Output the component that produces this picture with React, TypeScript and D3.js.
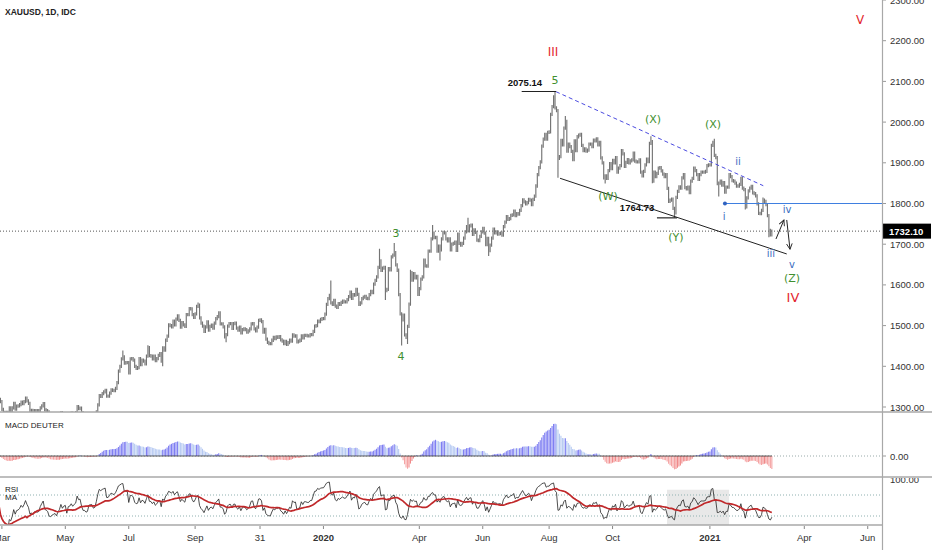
import React from 'react';
import * as d3 from 'd3';

// ---- Daily closes (XAUUSD, IDC), one array per month ----
const feb2019 = [1328, 1328, 1319, 1313];
const mar2019 = [1294, 1287, 1286, 1287, 1286, 1298, 1292, 1298, 1309, 1295, 1302, 1303, 1306, 1312, 1308, 1313, 1322, 1315, 1309, 1290, 1292];
const apr2019 = [1286, 1291, 1291, 1290, 1291, 1298, 1303, 1308, 1293, 1291, 1288, 1275, 1273, 1275, 1276, 1277, 1272, 1276, 1279, 1286, 1280, 1283];
const may2019 = [1284, 1270, 1280, 1281, 1285, 1281, 1284, 1286, 1301, 1296, 1297, 1286, 1277, 1277, 1273, 1274, 1283, 1284, 1284, 1279, 1280, 1288, 1305];
const jun2019 = [1328, 1326, 1333, 1337, 1341, 1327, 1327, 1334, 1342, 1341, 1340, 1346, 1360, 1388, 1400, 1418, 1423, 1408, 1409, 1409];
const jul2019 = [1384, 1418, 1419, 1415, 1400, 1395, 1397, 1419, 1404, 1415, 1413, 1406, 1425, 1446, 1426, 1425, 1418, 1425, 1414, 1419, 1427, 1431, 1413];
const aug2019 = [1445, 1440, 1464, 1474, 1502, 1500, 1497, 1511, 1502, 1516, 1524, 1513, 1496, 1507, 1502, 1498, 1527, 1527, 1542, 1541, 1527, 1520];
const sep2019 = [1529, 1547, 1550, 1519, 1506, 1499, 1486, 1497, 1509, 1489, 1498, 1501, 1494, 1506, 1517, 1522, 1531, 1504, 1504, 1497, 1472];
const oct2019 = [1478, 1499, 1505, 1505, 1493, 1505, 1506, 1494, 1489, 1496, 1482, 1490, 1492, 1490, 1484, 1487, 1492, 1504, 1505, 1492, 1487, 1496, 1513];
const nov2019 = [1514, 1510, 1484, 1491, 1467, 1459, 1456, 1456, 1464, 1471, 1468, 1472, 1471, 1473, 1465, 1462, 1456, 1461, 1454, 1458, 1464];
const dec2019 = [1462, 1477, 1474, 1475, 1460, 1462, 1464, 1475, 1470, 1476, 1476, 1475, 1475, 1478, 1478, 1486, 1499, 1500, 1511, 1510, 1515, 1517];
const jan2020 = [1517, 1528, 1552, 1566, 1574, 1556, 1552, 1562, 1548, 1545, 1554, 1552, 1557, 1560, 1558, 1558, 1564, 1571, 1582, 1567, 1576, 1575, 1589];
const feb2020 = [1577, 1552, 1556, 1566, 1570, 1572, 1567, 1566, 1576, 1584, 1581, 1602, 1611, 1620, 1643, 1659, 1636, 1641, 1643, 1586];
const mar2020 = [1589, 1640, 1637, 1669, 1673, 1679, 1649, 1636, 1576, 1529, 1514, 1526, 1477, 1471, 1498, 1553, 1630, 1612, 1628, 1617, 1621, 1577];
const apr2020 = [1591, 1614, 1620, 1661, 1647, 1646, 1683, 1683, 1713, 1727, 1716, 1717, 1683, 1695, 1686, 1713, 1729, 1728, 1713, 1708, 1713, 1686];
const may2020 = [1700, 1702, 1705, 1685, 1725, 1702, 1698, 1702, 1715, 1730, 1743, 1733, 1745, 1747, 1724, 1735, 1729, 1710, 1709, 1719, 1730];
const jun2020 = [1739, 1727, 1699, 1714, 1684, 1698, 1715, 1737, 1728, 1730, 1725, 1726, 1727, 1722, 1743, 1754, 1768, 1761, 1763, 1771, 1772, 1781];
const jul2020 = [1770, 1775, 1774, 1783, 1795, 1809, 1804, 1799, 1802, 1810, 1808, 1797, 1810, 1818, 1843, 1871, 1888, 1902, 1941, 1958, 1970, 1958, 1975];
const aug2020 = [1976, 2019, 2038, 2062, 2035, 2028, 1911, 1915, 1955, 1944, 1985, 2002, 1929, 1946, 1940, 1928, 1908, 1954, 1930, 1964, 1968];
const sep2020 = [1970, 1943, 1930, 1934, 1929, 1931, 1946, 1946, 1940, 1956, 1954, 1959, 1944, 1950, 1912, 1900, 1863, 1868, 1862, 1881, 1898, 1886];
const oct2020 = [1906, 1900, 1913, 1877, 1887, 1893, 1930, 1922, 1891, 1901, 1908, 1900, 1905, 1907, 1924, 1904, 1902, 1902, 1907, 1877, 1868, 1879];
const nov2020 = [1895, 1909, 1903, 1948, 1952, 1855, 1877, 1866, 1874, 1887, 1888, 1880, 1872, 1866, 1871, 1837, 1805, 1808, 1811, 1788, 1777];
const dec2020 = [1815, 1830, 1841, 1838, 1863, 1871, 1839, 1836, 1840, 1827, 1855, 1862, 1887, 1881, 1871, 1859, 1871, 1877, 1877, 1877, 1879, 1893, 1895];
const jan2021 = [1895, 1943, 1950, 1918, 1913, 1849, 1850, 1855, 1845, 1851, 1828, 1840, 1840, 1871, 1866, 1856, 1855, 1850, 1843, 1843, 1847];
const feb2021 = [1862, 1838, 1834, 1792, 1814, 1831, 1838, 1842, 1826, 1824, 1819, 1799, 1776, 1775, 1783, 1808, 1805, 1797, 1770, 1734];
const mar2021 = [1723, 1732.1];

const months = [feb2019, mar2019, apr2019, may2019, jun2019, jul2019, aug2019, sep2019, oct2019, nov2019, dec2019,
  jan2020, feb2020, mar2020, apr2020, may2020, jun2020, jul2020, aug2020, sep2020, oct2020, nov2020, dec2020,
  jan2021, feb2021, mar2021];
const FIRST_DAY = '2019-02-25';

// notable intraday extremes
const extremes: [string, 'h' | 'l', number][] = [
  ['2019-06-25', 'h', 1439], ['2019-07-18', 'h', 1452], ['2019-08-01', 'l', 1400], ['2019-09-04', 'h', 1557],
  ['2019-10-01', 'l', 1459], ['2020-01-08', 'h', 1611], ['2020-02-24', 'h', 1689], ['2020-02-28', 'l', 1563],
  ['2020-03-09', 'h', 1703], ['2020-03-16', 'l', 1451], ['2020-03-20', 'l', 1455], ['2020-03-24', 'h', 1637],
  ['2020-04-14', 'h', 1747], ['2020-04-21', 'l', 1660], ['2020-05-18', 'h', 1765], ['2020-06-05', 'l', 1671],
  ['2020-08-07', 'h', 2075.14], ['2020-08-11', 'l', 1863], ['2020-08-18', 'h', 2015], ['2020-09-24', 'l', 1849],
  ['2020-11-06', 'h', 1965], ['2020-11-09', 'l', 1850], ['2020-11-30', 'l', 1764.73], ['2021-01-06', 'h', 1959],
  ['2021-01-11', 'l', 1817], ['2021-02-04', 'l', 1785], ['2021-02-22', 'h', 1815], ['2021-02-26', 'l', 1717],
];

const priceTicks = [1300, 1400, 1500, 1600, 1700, 1800, 1900, 2000, 2100, 2200, 2300];
const timeTicks: [string, string, boolean][] = [
  ['2019-03', 'Mar', false], ['2019-05', 'May', false], ['2019-07', 'Jul', false], ['2019-09', 'Sep', false],
  ['2019-11', '31', false], ['2020-01', '2020', true], ['2020-04', 'Apr', false], ['2020-06', 'Jun', false],
  ['2020-08', 'Aug', false], ['2020-10', 'Oct', false], ['2021-01', '2021', true], ['2021-04', 'Apr', false],
  ['2021-06', 'Jun', false],
];

// wave labels: [text, bar index, price, colour key, size]
const waveLabels: [string, number, number, string, number][] = [
  ['III', 377.6, 2172, 'red', 12], ['V', 585.8, 2251, 'red', 12], ['IV', 540.3, 1570, 'red', 13],
  ['5', 379, 2103, 'green', 11], ['3', 271.2, 1727, 'green', 11], ['4', 274.6, 1425, 'green', 11],
  ['(X)', 445.4, 2007, 'green', 11], ['(X)', 486.1, 1993, 'green', 11], ['(W)', 414.9, 1818, 'green', 11],
  ['(Y)', 461.0, 1717, 'green', 11], ['(Z)', 539.7, 1615, 'green', 11],
  ['ii', 503.1, 1904, 'blue', 10], ['i', 493.6, 1767, 'blue', 10], ['iv', 536.3, 1786, 'blue', 10],
  ['iii', 525.4, 1678, 'blue', 10], ['v', 539.7, 1649, 'blue', 10],
];
const priceNotes: [string, number, number][] = [['2075.14', 358.6, 2098.5], ['1764.73', 434.6, 1789]];
const LAST_PRICE = 1732.1;

const COLORS: Record<string, string> = { red: '#e3262e', green: '#3f8f2f', blue: '#3a6cc0' };

function tradingDays(start: string, n: number): string[] {
  const out: string[] = [];
  const d = new Date(start + 'T00:00:00Z');
  while (out.length < n) {
    const wd = d.getUTCDay();
    if (wd !== 0 && wd !== 6) out.push(d.toISOString().slice(0, 10));
    d.setUTCDate(d.getUTCDate() + 1);
  }
  return out;
}

function ema(v: number[], n: number) {
  const a = 2 / (n + 1);
  const out: number[] = [];
  v.forEach((x, i) => out.push(i === 0 ? x : a * x + (1 - a) * out[i - 1]));
  return out;
}

function rsiCalc(v: number[], n: number) {
  const out: number[] = [NaN];
  let g = 0, l = 0;
  for (let i = 1; i < v.length; i++) {
    const ch = v[i] - v[i - 1];
    const up = Math.max(ch, 0), dn = Math.max(-ch, 0);
    const k = Math.min(i, n);
    g = (g * (k - 1) + up) / k;
    l = (l * (k - 1) + dn) / k;
    out.push(l === 0 ? 100 : 100 - 100 / (1 + g / l));
  }
  return out;
}

function sma(v: number[], n: number) {
  return v.map((_, i) => {
    const s = v.slice(Math.max(1, i - n + 1), i + 1).filter((x) => !isNaN(x));
    return s.length ? d3.mean(s)! : NaN;
  });
}

export default function App() {
  const W = 932, H = 550, AX = 882;
  const P_BOT = 412, M_BOT = 477, R_BOT = 525;
  const closes = months.flat();
  const N = closes.length;
  const days = tradingDays(FIRST_DAY, N + 90);
  const WICK = 4;
  const bars = closes.map((c, i) => {
    const o = i > 0 ? closes[i - 1] : c;
    return { o, c, h: Math.max(o, c) + WICK, l: Math.min(o, c) - WICK };
  });
  extremes.forEach(([d, t, p]) => {
    const i = days.indexOf(d);
    if (i >= 0 && i < N) {
      if (t === 'h') bars[i].h = Math.max(bars[i].h, p);
      else bars[i].l = Math.min(bars[i].l, p);
    }
  });

  const x = d3.scaleLinear().domain([2.712, 600.68]).range([0, AX]);
  const yP = d3.scaleLinear().domain([1300, 2300]).range([407, 0]);
  const yM = d3.scaleLinear().domain([-43.75, 91.7]).range([M_BOT, P_BOT]);
  const yR = d3.scaleLinear().domain([0, 100]).range([531.75, 479.25]);

  const e12 = ema(closes, 12), e26 = ema(closes, 26);
  const macd = closes.map((_, i) => e12[i] - e26[i]);
  const rsi = rsiCalc(closes, 9);
  const rsiMa = sma(rsi, 20);

  const barPath = bars.map((b, i) => {
    const xi = x(i);
    return `M${xi.toFixed(2)},${yP(b.h).toFixed(2)}V${yP(b.l).toFixed(2)}`;
  }).join('');

  const histColor = (i: number) => {
    const v = macd[i], pv = i > 0 ? macd[i - 1] : v;
    if (v >= 0) return v >= pv ? '#7f7ff2' : '#b5c9f2';
    return v <= pv ? '#f5a3a3' : '#f08a8a';
  };

  const idxOfMonth = (m: string) => days.findIndex((d) => d.startsWith(m));
  const rsiLine = d3.line<number>().x((_, i) => x(i)).y((v) => yR(v)).defined((v) => !isNaN(v));
  const font = "'Liberation Sans', Arial, sans-serif";

  const rectA = x(454.9), rectB = x(497);

  return (
    <svg width={W} height={H} style={{ position: 'absolute', left: 0, top: 0, background: '#fff' }} fontFamily={font}>
      <defs>
        <clipPath id="cp"><rect x={0} y={0} width={AX} height={P_BOT} /></clipPath>
        <clipPath id="cm"><rect x={0} y={P_BOT} width={AX} height={M_BOT - P_BOT} /></clipPath>
        <clipPath id="cr"><rect x={0} y={M_BOT} width={AX} height={R_BOT - M_BOT} /></clipPath>
        <clipPath id="cra"><rect x={AX} y={M_BOT + 1} width={W - AX} height={R_BOT - M_BOT} /></clipPath>
        <clipPath id="cpa"><rect x={AX} y={0} width={W - AX} height={P_BOT} /></clipPath>
        <marker id="ah" viewBox="0 0 10 10" refX={9} refY={5} markerWidth={7} markerHeight={7} orient="auto">
          <path d="M1,1 L9,5 L1,9" fill="none" stroke="#222" strokeWidth={1.3} />
        </marker>
      </defs>
      <rect x={0} y={0} width={W} height={H} fill="#fff" />

      {/* price panel */}
      <g clipPath="url(#cp)">
        <line x1={0} x2={AX} y1={yP(LAST_PRICE)} y2={yP(LAST_PRICE)} stroke="#555" strokeWidth={1} strokeDasharray="1,2" />
        <path d={barPath} stroke="#747474" strokeWidth={1.15} fill="none" />
        {/* trend lines */}
        <line x1={x(379.7)} y1={yP(2074.7)} x2={x(520.2)} y2={yP(1843.7)} stroke="#4b4be0" strokeWidth={1} strokeDasharray="4,3" />
        <line x1={x(382.4)} y1={yP(1862)} x2={x(536.1)} y2={yP(1676)} stroke="#222" strokeWidth={1} />
        <line x1={x(356.4)} y1={yP(2075.14)} x2={x(379.7)} y2={yP(2075.14)} stroke="#222" strokeWidth={1.2} />
        <line x1={x(448.1)} y1={yP(1764.73)} x2={x(461.7)} y2={yP(1764.73)} stroke="#222" strokeWidth={1.2} />
        <line x1={x(494.2)} y1={yP(1800)} x2={AX} y2={yP(1800)} stroke="#3f7fe0" strokeWidth={1.1} />
        <circle cx={x(494.2)} cy={yP(1800)} r={2} fill="#2f62c0" />
        <line x1={x(528.8)} y1={yP(1712.8)} x2={x(534.2)} y2={yP(1759.5)} stroke="#222" strokeWidth={1} markerEnd="url(#ah)" />
        <line x1={x(536.1)} y1={yP(1759.5)} x2={x(538.3)} y2={yP(1687.5)} stroke="#222" strokeWidth={1} markerEnd="url(#ah)" />
        {waveLabels.map(([t, i, p, c, s], k) => (
          <text key={k} x={x(i)} y={yP(p)} fill={COLORS[c]} fontSize={s} textAnchor="middle" dominantBaseline="central"
            fontFamily="'DejaVu Sans', sans-serif">{t}</text>
        ))}
        {priceNotes.map(([t, i, p], k) => (
          <text key={k} x={x(i)} y={yP(p)} fill="#111" fontSize={9.5} fontWeight="bold" textAnchor="middle" dominantBaseline="central">{t}</text>
        ))}
      </g>
      <text x={5} y={12} fontSize={8.5} fontWeight={600} fill="#222" dominantBaseline="central">XAUUSD, 1D, IDC</text>

      {/* price axis */}
      <g clipPath="url(#cpa)">
        {priceTicks.map((p) => (
          <g key={p}>
            <line x1={AX} x2={AX + 4} y1={yP(p)} y2={yP(p)} stroke="#999" />
            <text x={890} y={yP(p)} fontSize={9.5} fill="#333" dominantBaseline="central">{p.toFixed(2)}</text>
          </g>
        ))}
        <rect x={AX + 1} y={yP(LAST_PRICE) - 7.5} width={48} height={15} fill="#000" />
        <text x={889} y={yP(LAST_PRICE)} fontSize={9.5} fill="#fff" fontWeight="bold" dominantBaseline="central">{LAST_PRICE.toFixed(2)}</text>
      </g>

      {/* MACD panel */}
      <g clipPath="url(#cm)">
        <line x1={0} x2={AX} y1={yM(0)} y2={yM(0)} stroke="#9aa" strokeDasharray="1,2" />
        {macd.map((v, i) => (
          <line key={i} x1={x(i)} x2={x(i)} y1={yM(0)} y2={yM(v)} stroke={histColor(i)} strokeWidth={1.1} />
        ))}
        <line x1={x(0)} x2={x(N - 1)} y1={yM(0)} y2={yM(0)} stroke="#333" strokeWidth={0.8} />
      </g>
      <text x={5} y={425} fontSize={8} fill="#222" dominantBaseline="central">MACD DEUTER</text>
      <line x1={AX} x2={AX + 4} y1={yM(0)} y2={yM(0)} stroke="#999" />
      <text x={890} y={yM(0)} fontSize={9.5} fill="#333" dominantBaseline="central">0.00</text>

      {/* RSI panel */}
      <g clipPath="url(#cr)">
        <rect x={rectA} width={rectB - rectA} y={yR(80)} height={R_BOT - yR(80)} fill="#e8e8e8" />
        <line x1={0} x2={AX} y1={yR(70)} y2={yR(70)} stroke="#8fb0b0" strokeDasharray="1,2" />
        <line x1={0} x2={AX} y1={yR(30)} y2={yR(30)} stroke="#8fb0b0" strokeDasharray="1,2" />
        <path d={rsiLine(rsi) || ''} fill="none" stroke="#222" strokeWidth={0.8} />
        <path d={rsiLine(rsiMa) || ''} fill="none" stroke="#c0282a" strokeWidth={1.7} />
      </g>
      <text x={5} y={489} fontSize={8} fill="#222" dominantBaseline="central">RSI</text>
      <text x={5} y={497} fontSize={8} fill="#222" dominantBaseline="central">MA</text>
      <g clipPath="url(#cra)">
        <text x={890} y={yR(100)} fontSize={9.5} fill="#333" dominantBaseline="central">100.00</text>
      </g>

      {/* separators and axes */}
      <line x1={0} x2={AX} y1={P_BOT} y2={P_BOT} stroke="#a8a8a8" strokeWidth={1.5} />
      <line x1={0} x2={W} y1={M_BOT} y2={M_BOT} stroke="#a8a8a8" strokeWidth={1.5} />
      <line x1={0} x2={AX} y1={R_BOT} y2={R_BOT} stroke="#a8a8a8" strokeWidth={1.5} />
      <line x1={AX + 0.5} x2={AX + 0.5} y1={0} y2={H} stroke="#a8a8a8" strokeWidth={1.2} />
      <line x1={AX} x2={W} y1={P_BOT} y2={P_BOT} stroke="#a8a8a8" strokeWidth={1.5} />

      {timeTicks.map(([m, t, b]) => {
        const i = idxOfMonth(m);
        const xi = x(i);
        return (
          <g key={m}>
            <line x1={xi} x2={xi} y1={R_BOT + 1} y2={R_BOT + 4} stroke="#888" />
            <text x={xi} y={537} fontSize={9.5} fill="#333" fontWeight={b ? 'bold' : 'normal'} textAnchor="middle" dominantBaseline="central">{t}</text>
          </g>
        );
      })}
    </svg>
  );
}
